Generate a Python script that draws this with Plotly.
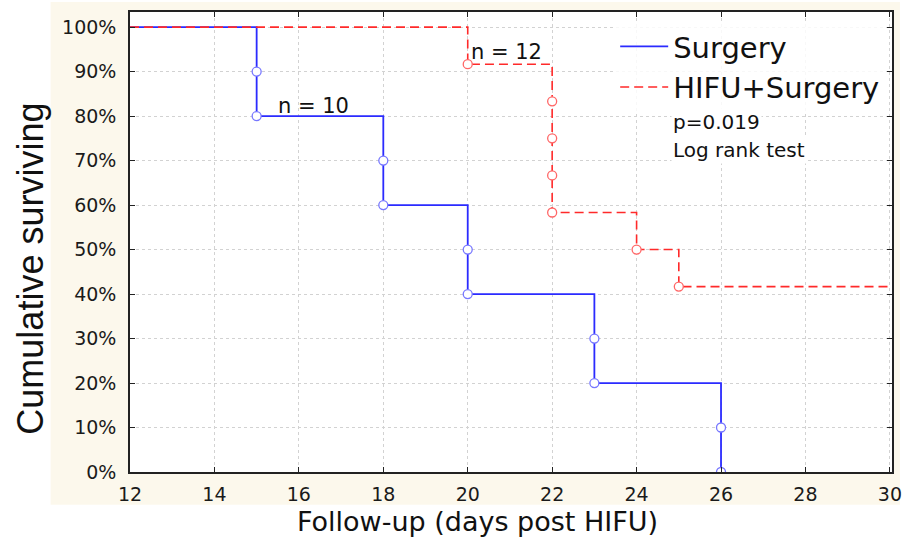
import plotly.graph_objects as go

# ---- data ----
x_ticks = [12, 14, 16, 18, 20, 22, 24, 26, 28, 30]
y_ticks = [0, 10, 20, 30, 40, 50, 60, 70, 80, 90, 100]

surgery_days = [12, 15, 18, 20, 23, 26]
surgery_surv = [100, 80, 60, 40, 20, 0]
surgery_evt_days = [15, 15, 18, 18, 20, 20, 23, 23, 26, 26]
surgery_evt_surv = [90, 80, 70, 60, 50, 40, 30, 20, 10, 0]

hifu_days = [12, 20, 22, 24, 25, 30]
hifu_surv = [100, 91.67, 58.33, 50, 41.67, 41.67]
hifu_evt_days = [20, 22, 22, 22, 22, 24, 25]
hifu_evt_surv = [91.67, 83.33, 75, 66.67, 58.33, 50, 41.67]

BLUE = "#2b2bff"
RED = "#ff2a2a"
CREAM = "#fcf8ec"

fig = go.Figure()

fig.add_trace(go.Scatter(x=surgery_days, y=surgery_surv, mode="lines", line_shape="hv",
                         line=dict(color=BLUE, width=1.8), name="Surgery"))
fig.add_trace(go.Scatter(x=surgery_evt_days, y=surgery_evt_surv, mode="markers", showlegend=False,
                         marker=dict(symbol="circle", size=9, color="white",
                                     line=dict(color="#7777ff", width=1.3))))
fig.add_trace(go.Scatter(x=hifu_days, y=hifu_surv, mode="lines", line_shape="hv",
                         line=dict(color=RED, width=1.6, dash="9px,5px"), name="HIFU+Surgery"))
fig.add_trace(go.Scatter(x=hifu_evt_days, y=hifu_evt_surv, mode="markers", showlegend=False,
                         marker=dict(symbol="circle", size=9, color="white",
                                     line=dict(color="#ff6666", width=1.3))))

L, R, T, B = 130, 14, 10, 70
W, H = 912, 542
pw, ph = W - L - R, H - T - B

def px(xp):
    return (xp - L) / pw

def py(yp):
    return (H - B - yp) / ph

# cream background behind the frame, white inside the plot area
fig.add_shape(type="rect", xref="paper", yref="paper",
              x0=px(50), x1=px(906), y0=py(505), y1=py(0),
              fillcolor=CREAM, line=dict(width=0), layer="below")
fig.add_shape(type="rect", xref="paper", yref="paper",
              x0=0, x1=1, y0=0, y1=1,
              fillcolor="white", line=dict(width=0), layer="below")

axis_common = dict(showline=True, linecolor="#222222", linewidth=1.6, mirror="ticks",
                   ticks="inside", ticklen=5, tickcolor="#222222",
                   showgrid=True, gridcolor="#d2d2d2", griddash="dot", gridwidth=1,
                   zeroline=False,
                   tickfont=dict(family="DejaVu Sans", size=19, color="#1a1a1a"))

fig.update_xaxes(range=[12, 30.05], tickvals=x_ticks, ticktext=[str(v) for v in x_ticks],
                 ticklabelstandoff=4, **axis_common)
fig.update_yaxes(range=[0, 103.4], tickvals=y_ticks, ticktext=[f"{v}%" for v in y_ticks],
                 ticklabelstandoff=8, **axis_common)

annos = [
    dict(text="Follow-up (days post HIFU)", xref="paper", yref="paper", x=px(480), y=py(522),
         xanchor="center", yanchor="middle", showarrow=False,
         font=dict(family="DejaVu Sans", size=27, color="#111111")),
    dict(text="Cumulative surviving", xref="paper", yref="paper", x=px(30), y=py(268),
         xanchor="center", yanchor="middle", textangle=-90, showarrow=False,
         font=dict(family="Liberation Sans", size=36, color="#111111")),
    dict(text="n = 10", x=15.45, y=82.3, xanchor="left", yanchor="middle", showarrow=False,
         font=dict(family="DejaVu Sans", size=21, color="#111111")),
    dict(text="n = 12", x=20.03, y=94.3, xanchor="left", yanchor="middle", showarrow=False,
         font=dict(family="DejaVu Sans", size=21, color="#111111")),
    dict(text="p=0.019", xref="paper", yref="paper", x=px(675), y=py(120),
         xanchor="left", yanchor="middle", showarrow=False, bgcolor="white",
         font=dict(family="DejaVu Sans", size=20, color="#111111")),
    dict(text="Log rank test", xref="paper", yref="paper", x=px(675), y=py(149),
         xanchor="left", yanchor="middle", showarrow=False, bgcolor="white",
         font=dict(family="DejaVu Sans", size=20, color="#111111")),
]

fig.update_layout(
    width=W, height=H,
    margin=dict(l=L, r=R, t=T, b=B, pad=0),
    paper_bgcolor="white", plot_bgcolor="white",
    annotations=annos,
    showlegend=True,
    legend=dict(x=px(619), y=py(19), xanchor="left", yanchor="top",
                bgcolor="rgba(255,255,255,0.85)", borderwidth=0, itemwidth=48, tracegroupgap=0,
                font=dict(family="DejaVu Sans", size=29, color="#111111")),
)

fig.write_html("out.html", config={"displayModeBar": False},
               post_script="document.body.style.margin='0px';")
